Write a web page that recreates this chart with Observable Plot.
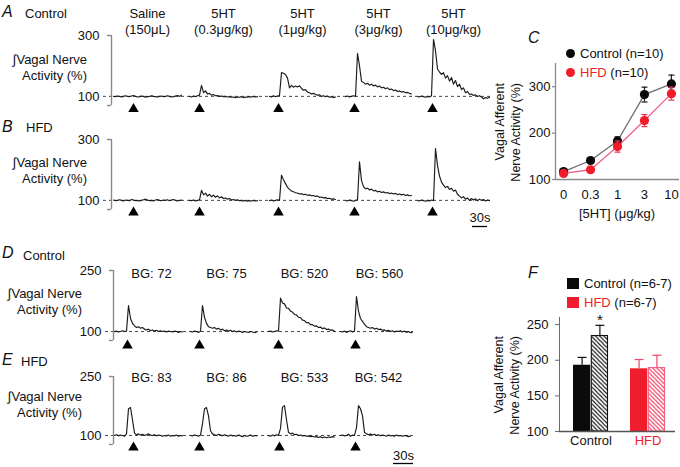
<!DOCTYPE html>
<html>
<head>
<meta charset="utf-8">
<script src="https://cdn.jsdelivr.net/npm/d3@7"></script>
<script src="https://cdn.jsdelivr.net/npm/@observablehq/plot@0.6"></script>
<style>
  html, body { margin: 0; padding: 0; background: #fff; }
  #fig { position: relative; width: 680px; height: 467px; overflow: hidden; background: #fff;
         font-family: "Liberation Sans", Arial, Helvetica, sans-serif; color: #111; }
  #fig > svg { position: absolute; }
  .t { position: absolute; white-space: nowrap; }
</style>
</head>
<body>
<div id="fig"></div>
<script>
// ================= DATA =================
// Panels A/B: integrated vagal nerve activity (%), time in seconds, one sample every 4 s
const abHeaders = ["Saline\n(150μL)", "5HT\n(0.3μg/kg)", "5HT\n(1μg/kg)", "5HT\n(3μg/kg)", "5HT\n(10μg/kg)"];
const abSegStart = [4, 156, 316, 468, 612];
const abInject = [44, 176, 334, 486, 642];
const abDt = 4;
const aControl = [
  [100, 99, 101, 100, 98, 100, 102, 100, 99, 101, 103, 100, 98, 99, 101, 100, 97, 99, 100, 102, 100, 99, 98, 100, 101, 99, 100, 102, 100, 98, 99, 101, 103, 100, 104],
  [100, 98, 101, 99, 102, 104, 136, 112, 118, 108, 110, 104, 106, 102, 103, 100, 101, 99, 100, 98, 99, 97, 98, 96, 98, 97, 99, 96, 98, 97, 99, 98, 100, 98, 99],
  [100, 98, 102, 99, 101, 103, 178, 176, 172, 160, 128, 136, 130, 134, 131, 135, 126, 120, 122, 114, 112, 108, 110, 106, 104, 105, 100, 102, 99, 101, 97, 99, 96, 98],
  [99, 101, 98, 100, 102, 100, 241, 200, 150, 146, 140, 143, 137, 140, 134, 137, 131, 134, 128, 130, 125, 128, 122, 124, 119, 121, 116, 118, 114, 116, 112, 113, 110, 108],
  [100, 98, 101, 99, 97, 100, 98, 102, 287, 250, 190, 180, 172, 178, 160, 168, 150, 162, 140, 152, 132, 140, 122, 128, 112, 116, 106, 108, 103, 105, 100, 102, 98, 92, 96, 94, 97]
];
const bHFD = [
  [101, 99, 100, 102, 100, 98, 101, 100, 99, 103, 101, 99, 100, 98, 100, 102, 104, 101, 99, 100, 98, 101, 103, 100, 99, 101, 100, 102, 99, 101, 103, 100, 98, 100, 101],
  [100, 99, 101, 98, 100, 102, 133, 118, 124, 114, 120, 112, 117, 110, 115, 108, 112, 106, 108, 104, 106, 101, 103, 100, 102, 99, 100, 98, 100, 97, 99, 98, 100, 98, 99],
  [99, 101, 98, 100, 102, 100, 183, 168, 155, 143, 136, 131, 128, 125, 124, 121, 122, 119, 120, 117, 118, 115, 116, 113, 114, 110, 111, 108, 109, 106, 107, 104, 105, 103],
  [100, 98, 101, 99, 97, 100, 102, 227, 165, 145, 138, 140, 134, 137, 131, 133, 128, 130, 126, 128, 124, 126, 122, 124, 121, 123, 119, 121, 118, 120, 116, 118, 115, 116],
  [100, 98, 101, 99, 97, 100, 98, 101, 99, 270, 215, 180, 160, 150, 142, 146, 136, 140, 130, 134, 120, 114, 108, 112, 104, 108, 100, 106, 101, 105, 99, 104, 100, 103, 98, 101, 99]
];
const abYLabels = [100, 300];

// Panels D/E: one sample every 3 s
const dLabels = ["BG: 72", "BG: 75", "BG: 520", "BG: 560"];
const eLabels = ["BG: 83", "BG: 86", "BG: 533", "BG: 542"];
const deSegStart = [1.5, 115.5, 232.5, 340.5];
const dInject = [21, 129, 247.5, 363];
const eInject = [30, 129, 249, 363];
const deDt = 3;
const dControl = [
  [100, 101, 99, 100, 102, 100, 101, 164, 132, 120, 114, 110, 112, 108, 110, 106, 104, 106, 102, 104, 101, 103, 100, 102, 100, 101, 99, 101, 100, 99, 101, 100, 98, 100, 99],
  [100, 99, 101, 100, 98, 101, 164, 135, 120, 112, 110, 108, 110, 106, 108, 104, 106, 102, 104, 101, 103, 100, 102, 99, 101, 100, 98, 100, 99, 98, 100, 99, 97, 99],
  [100, 101, 99, 100, 102, 101, 182, 170, 168, 158, 157, 150, 148, 142, 141, 135, 134, 128, 127, 122, 122, 117, 117, 113, 114, 110, 111, 107, 109, 105, 106, 103, 104, 101],
  [100, 99, 101, 98, 100, 102, 99, 101, 186, 150, 132, 125, 118, 112, 110, 108, 110, 106, 108, 105, 106, 103, 104, 101, 103, 100, 102, 99, 101, 100, 102, 99, 101, 98, 100, 97, 99]
];
const eHFD = [
  [100, 102, 99, 101, 100, 98, 104, 168, 171, 140, 106, 102, 104, 101, 103, 100, 102, 104, 101, 100, 102, 99, 101, 100, 98, 100, 99, 101, 98, 100, 99, 101, 98, 100, 99],
  [100, 99, 101, 100, 98, 101, 130, 168, 171, 150, 112, 104, 102, 100, 103, 101, 99, 102, 100, 98, 101, 99, 100, 98, 101, 99, 97, 100, 98, 99, 101, 98, 100, 99],
  [100, 98, 101, 99, 102, 100, 118, 172, 176, 140, 108, 104, 106, 102, 103, 100, 101, 99, 100, 98, 99, 97, 98, 96, 97, 95, 97, 94, 96, 94, 96, 95, 97, 96],
  [100, 101, 99, 100, 103, 98, 101, 100, 120, 176, 168, 150, 108, 104, 102, 104, 101, 103, 100, 102, 99, 101, 100, 98, 101, 99, 100, 98, 101, 99, 100, 98, 100, 99, 97, 99]
];
const deYLabels = [100, 250];
const scaleBarSeconds = 30;
const scaleBarLabel = "30s";

// Panel C: dose response
const doses = ["0", "0.3", "1", "3", "10"];
const cControl = [117, 141, 183, 283, 306];
const cControlErr = [3, 4, 9, 16, 19];
const cHFD = [113, 121, 171, 227, 285];
const cHFDErr = [3, 4, 12, 13, 14];
const cYTicks = [100, 200, 300];

// Panel F: bars (solid = low BG, hatched = high BG)
const fGroups = ["Control", "HFD"];
const fLow = [193, 188];
const fLowErr = [11, 13];
const fHigh = [234, 189];
const fHighErr = [15, 18];
const fSig = [true, false];
const fYTicks = [100, 150, 200, 250];

// ================= DRAWING =================
const FONT = '"Liberation Sans", Arial, Helvetica, sans-serif';
const fig = document.getElementById("fig");
const baseStyle = {background: "transparent", overflow: "visible", fontFamily: FONT, fontSize: "13px", color: "#111"};
const AXIS = "#8a8a8a";
const capSymbol = {draw(ctx, size) { const w = Math.sqrt(size / Math.PI); ctx.moveTo(-w, 0); ctx.lineTo(w, 0); }};

function place(svg, left, top) {
  svg.style.left = left + "px";
  svg.style.top = top + "px";
  fig.appendChild(svg);
  return svg;
}

function tracePlot(cfg) {
  const rows = cfg.segs.flatMap((vals, s) => vals.map((v, i) => ({seg: s, t: cfg.starts[s] + i * cfg.dt, v})));
  const segMid = cfg.segs.map((vals, s) => cfg.starts[s] + (vals.length - 1) * cfg.dt / 2);
  const [x0, x1] = cfg.xDomain, [y0, y1] = cfg.yDomain;
  const marks = [
    Plot.ruleY([100], {x1: x0 - cfg.dashLead, x2: x1, stroke: "#333", strokeWidth: 0.9, strokeDasharray: "3,3"}),
    Plot.ruleX([x0], {y1: y0, y2: y1, stroke: AXIS, strokeWidth: 1.4}),
    Plot.ruleY([y0, y1], {x1: x0 - cfg.tickLen, x2: x0, stroke: AXIS, strokeWidth: 1.4}),
    Plot.text(cfg.yLabels, {y: d => d, text: d => String(d), frameAnchor: "left", textAnchor: "end", lineAnchor: "middle", dx: -12, fill: "#111"}),
    Plot.line(rows, {x: "t", y: "v", z: "seg", stroke: "#1b1b1b", strokeWidth: 1.15}),
    Plot.dot(cfg.inject, {x: d => d, y: y0, dy: cfg.arrowDy, symbol: "triangle", r: 3.9, fill: "#000", stroke: "none"})
  ];
  if (cfg.headers) marks.push(Plot.text(cfg.headers, {x: (d, i) => segMid[i], text: d => d, frameAnchor: "top", lineAnchor: "middle", dy: cfg.headerDy, dx: cfg.headerDx || 0, lineHeight: 1.23, fill: "#111"}));
  if (cfg.scaleBar) {
    const [a, b] = cfg.scaleBar;
    marks.push(Plot.ruleY([y0], {x1: a, x2: b, dy: cfg.barDy, stroke: "#000", strokeWidth: 1.3}));
    marks.push(Plot.text([scaleBarLabel], {x: (a + b) / 2, y: y0, dy: cfg.barTextDy, lineAnchor: "middle", text: d => d, fill: "#111"}));
  }
  const svg = Plot.plot({
    width: 680, height: cfg.height,
    marginLeft: cfg.mLeft, marginRight: 680 - cfg.xRight, marginTop: cfg.mTop, marginBottom: cfg.mBottom,
    x: {domain: cfg.xDomain, axis: null},
    y: {domain: cfg.yDomain, axis: null},
    style: baseStyle,
    marks
  });
  return place(svg, 0, cfg.top);
}

// A
tracePlot({segs: aControl, starts: abSegStart, dt: abDt, inject: abInject, headers: abHeaders, headerDy: -15,
  xDomain: [0, 758], yDomain: [70, 300], yLabels: abYLabels, top: 0, height: 115, mLeft: 111, xRight: 490,
  mTop: 35, mBottom: 10, dashLead: 16, tickLen: 8, arrowDy: 3.5});
// B
tracePlot({segs: bHFD, starts: abSegStart, dt: abDt, inject: abInject,
  xDomain: [0, 758], yDomain: [70, 300], yLabels: abYLabels, top: 105, height: 125, mLeft: 111, xRight: 490,
  mTop: 34, mBottom: 21, dashLead: 16, tickLen: 8, arrowDy: 3,
  scaleBar: [758 - 6 - scaleBarSeconds, 758 - 6], barDy: 17, barTextDy: 8});
// D
tracePlot({segs: dControl, starts: deSegStart, dt: deDt, inject: dInject, headers: dLabels, headerDy: 2, headerDx: 3,
  xDomain: [0, 450], yDomain: [78, 250], yLabels: deYLabels, top: 255, height: 100, mLeft: 113, xRight: 413,
  mTop: 15, mBottom: 15, dashLead: 12, tickLen: 6, arrowDy: 5});
// E
tracePlot({segs: eHFD, starts: deSegStart, dt: deDt, inject: eInject, headers: eLabels, headerDy: 0, headerDx: 3,
  xDomain: [0, 450], yDomain: [77, 250], yLabels: deYLabels, top: 360, height: 107, mLeft: 113, xRight: 413,
  mTop: 16, mBottom: 23, dashLead: 12, tickLen: 6, arrowDy: 3,
  scaleBar: [450 - scaleBarSeconds, 450], barDy: 19, barTextDy: 11});

// C
{
  const pad = 0.3;
  const ctrl = doses.map((d, i) => ({i, v: cControl[i], e: cControlErr[i]}));
  const hfd = doses.map((d, i) => ({i, v: cHFD[i], e: cHFDErr[i]}));
  const series = (rows, line, bar, dot) => [
    Plot.line(rows, {x: "i", y: "v", stroke: line, strokeWidth: 1.3}),
    Plot.ruleX(rows, {x: "i", y1: d => d.v - d.e, y2: d => d.v + d.e, stroke: bar, strokeWidth: 1.2}),
    Plot.dot(rows, {x: "i", y: d => d.v + d.e, symbol: capSymbol, r: 3, stroke: bar, fill: "none", strokeWidth: 1.2}),
    Plot.dot(rows, {x: "i", y: d => d.v - d.e, symbol: capSymbol, r: 3, stroke: bar, fill: "none", strokeWidth: 1.2}),
    Plot.dot(rows, {x: "i", y: "v", r: 4.6, fill: dot, stroke: "none"})
  ];
  const svg = Plot.plot({
    width: 190, height: 210, marginLeft: 65, marginRight: 1, marginTop: 43, marginBottom: 51,
    x: {domain: [-pad, doses.length - 1 + pad], axis: null},
    y: {domain: [100, 350], axis: null},
    style: baseStyle,
    marks: [
      Plot.ruleY([100], {stroke: AXIS, strokeWidth: 1.3}),
      Plot.ruleX([-pad], {stroke: AXIS, strokeWidth: 1.3}),
      Plot.ruleY(cYTicks, {x1: -pad - 0.11, x2: -pad, stroke: AXIS, strokeWidth: 1.3}),
      Plot.text(cYTicks, {y: d => d, text: d => String(d), frameAnchor: "left", textAnchor: "end", lineAnchor: "middle", dx: -5, fill: "#111"}),
      Plot.text(doses, {x: (d, i) => i, text: d => d, frameAnchor: "bottom", lineAnchor: "middle", dy: 15, fill: "#111"}),
      ...series(ctrl, "#6e6e6e", "#1a1a1a", "#0a0a0a"),
      ...series(hfd, "#ec6288", "#e8304f", "#f01c2b")
    ]
  });
  place(svg, 490, 20);
}

// F
{
  const W = 190, mL = 69, mR = 5, pi = 0.38, po = 0.2;
  const step = (W - mL - mR) / (fGroups.length - pi + 2 * po);
  const bw = step * (1 - pi);
  const palette = {
    Control: {solid: "#0b0b0b", hatch: "url(#hatchK)", edge: "#111", err: "#111", label: "#111"},
    HFD: {solid: "#f01e2c", hatch: "url(#hatchR)", edge: "#f2607e", err: "#ee4a66", label: "#f01e2c"}
  };
  const rows = fGroups.map((g, i) => ({group: g, low: fLow[i], lowErr: fLowErr[i], high: fHigh[i], highErr: fHighErr[i], sig: fSig[i], ...palette[g]}));
  const svg = Plot.plot({
    width: W, height: 207, marginLeft: mL, marginRight: mR, marginTop: 57, marginBottom: 36,
    x: {domain: fGroups, type: "band", paddingInner: pi, paddingOuter: po, align: 0.6, axis: null},
    y: {domain: [100, 260], ticks: fYTicks, tickSize: 4, tickPadding: 0, tickFormat: () => "", line: true, label: null},
    color: {type: "identity"},
    style: {...baseStyle, color: "#6a6a6a"},
    marks: [
      Plot.barY(rows, {x: "group", y1: 100, y2: "low", fill: d => d.solid, insetRight: bw / 2}),
      Plot.barY(rows, {x: "group", y1: 100, y2: "high", fill: d => d.hatch, stroke: d => d.edge, strokeWidth: 1.1, insetLeft: bw / 2 + 0.5, insetRight: 0.5}),
      Plot.ruleX(rows, {x: "group", y1: "low", y2: d => d.low + d.lowErr, stroke: d => d.err, strokeWidth: 1.2, dx: -bw / 4}),
      Plot.dot(rows, {x: "group", y: d => d.low + d.lowErr, symbol: capSymbol, r: 4.5, stroke: d => d.err, fill: "none", strokeWidth: 1.2, dx: -bw / 4}),
      Plot.ruleX(rows, {x: "group", y1: "high", y2: d => d.high + d.highErr, stroke: d => d.err, strokeWidth: 1.2, dx: bw / 4}),
      Plot.dot(rows, {x: "group", y: d => d.high + d.highErr, symbol: capSymbol, r: 4.5, stroke: d => d.err, fill: "none", strokeWidth: 1.2, dx: bw / 4}),
      Plot.ruleY([100], {stroke: "#555", strokeWidth: 1.3}),
      Plot.text(fYTicks, {y: d => d, text: d => String(d), frameAnchor: "left", textAnchor: "end", lineAnchor: "middle", dx: -11, fill: "#111"}),
      Plot.text(rows, {x: "group", text: "group", frameAnchor: "bottom", lineAnchor: "middle", dy: 9, fill: d => d.label}),
      Plot.text(rows.filter(d => d.sig), {x: "group", y: d => d.high + d.highErr, text: () => "*", lineAnchor: "middle", dx: bw / 4, dy: -5, fontSize: 15, fill: "#111"})
    ]
  });
  const defs = d3.select(svg).insert("defs", ":first-child");
  const hatch = (id, color) => {
    const s = 4.2;
    const p = defs.append("pattern").attr("id", id).attr("patternUnits", "userSpaceOnUse").attr("width", s).attr("height", s);
    p.append("rect").attr("width", s).attr("height", s).attr("fill", "#fff");
    p.append("path").attr("d", `M-1,-1L${s + 1},${s + 1}M-1,${s - 1}L1,${s + 1}M${s - 1},-1L${s + 1},1`)
      .attr("stroke", color).attr("stroke-width", 1.1).attr("fill", "none");
  };
  hatch("hatchK", "#111");
  hatch("hatchR", "#ef3a5d");
  place(svg, 490, 260);
}

// ================= TEXT =================
function text(html, x, y, opt = {}) {
  const {size = 13, align = "left", italic = false, color = "#111"} = opt;
  const d = document.createElement("div");
  d.className = "t";
  d.innerHTML = html;
  const tx = align === "left" ? "0" : align === "center" ? "-50%" : "-100%";
  d.style.cssText = `left:${x}px;top:${y}px;font-size:${size}px;line-height:${size}px;color:${color};transform:translate(${tx},-50%);` + (italic ? "font-style:italic;" : "");
  fig.appendChild(d);
}
function block(lines, xRight, yFirst) {
  const d = document.createElement("div");
  d.className = "t";
  d.innerHTML = lines.join("<br>");
  d.style.cssText = `left:${xRight}px;top:${yFirst - 8}px;font-size:13px;line-height:16px;text-align:right;transform:translateX(-100%);`;
  fig.appendChild(d);
}
function vtitle(lines, left, endY) {
  const W = 120;
  const d = document.createElement("div");
  d.className = "t";
  d.innerHTML = lines.join("<br>");
  d.style.cssText = `left:${left}px;top:${endY + W}px;width:${W}px;font-size:12.5px;line-height:16px;text-align:right;transform-origin:0 0;transform:rotate(-90deg);`;
  fig.appendChild(d);
}
function swatch(x, y, w, h, color, round) {
  const d = document.createElement("div");
  d.style.cssText = `position:absolute;left:${x}px;top:${y}px;width:${w}px;height:${h}px;background:${color};` + (round ? "border-radius:50%;" : "");
  fig.appendChild(d);
}

const yTitle = ["∫Vagal Nerve", "Activity (%)"];
text("A", 2, 12, {size: 16, italic: true}); text("Control", 25, 13);
block(yTitle, 87, 60);
text("B", 2, 127, {size: 16, italic: true}); text("HFD", 26, 127);
block(yTitle, 87, 163);
text("D", 2, 253, {size: 16, italic: true}); text("Control", 23, 255);
block(yTitle, 82, 294);
text("E", 2, 360, {size: 16, italic: true}); text("HFD", 21, 361);
block(yTitle, 82, 397);

text("C", 528, 38, {size: 16, italic: true});
swatch(565.5, 48.5, 9, 9, "#0a0a0a", true); text("Control (n=10)", 580, 53);
swatch(565.5, 67.5, 9, 9, "#f01c2b", true); text('<span style="color:#f01c2b">HFD</span> (n=10)', 580, 72);
vtitle(["Vagal Afferent", "Nerve Activity (%)"], 492, 83);
text("[5HT] (μg/kg)", 617, 213, {align: "center"});

text("F", 528, 273, {size: 16, italic: true});
swatch(567, 278, 12, 11, "#0b0b0b"); text("Control (n=6-7)", 584, 283);
swatch(567, 297, 12, 11, "#f01e2c"); text('<span style="color:#f01e2c">HFD</span> (n=6-7)', 584, 302);
vtitle(["Vagal Afferent", "Nerve Activity (%)"], 491, 336);
</script>
</body>
</html>
